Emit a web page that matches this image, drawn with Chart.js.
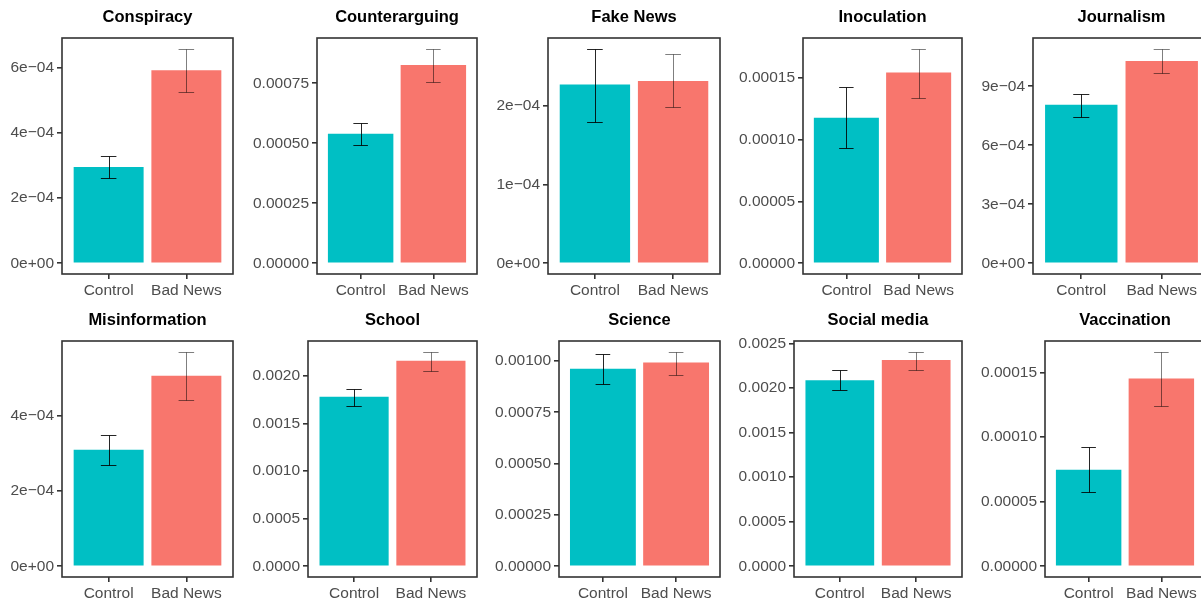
<!DOCTYPE html>
<html>
<head>
<meta charset="utf-8">
<title>Bad News vs Control</title>
<script src="https://cdn.jsdelivr.net/npm/chart.js@4/dist/chart.umd.min.js"></script>
<style>
    html, body { margin: 0; padding: 0; background: #fff; }
    body { width: 1201px; height: 602px; overflow: hidden; position: relative; }
    canvas { position: absolute; }
</style>
</head>
<body>
<div id="panels"></div>
<script>
// Values
const categories = ["Conspiracy", "Counterarguing", "Fake News", "Inoculation", "Journalism",
    "Misinformation", "School", "Science", "Social media", "Vaccination"];
const groups = ["Control", "Bad News"];

const controlMean = [2.96e-4, 5.40e-4, 2.275e-4, 1.175e-4, 8.06e-4, 3.10e-4, 1.781e-3, 9.62e-4, 2.087e-3, 7.47e-5];
const controlLow  = [2.63e-4, 4.91e-4, 1.80e-4, 0.934e-4, 7.43e-4, 2.70e-4, 1.684e-3, 8.88e-4, 1.977e-3, 5.75e-5];
const controlHigh = [3.28e-4, 5.83e-4, 2.73e-4, 1.422e-4, 8.63e-4, 3.50e-4, 1.868e-3, 1.033e-3, 2.202e-3, 9.25e-5];

const badNewsMean = [5.93e-4, 8.26e-4, 2.32e-4, 1.540e-4, 1.029e-3, 5.07e-4, 2.161e-3, 9.93e-4, 2.314e-3, 1.453e-4];
const badNewsLow  = [5.25e-4, 7.56e-4, 1.99e-4, 1.337e-4, 9.66e-4, 4.43e-4, 2.056e-3, 9.30e-4, 2.202e-3, 1.240e-4];
const badNewsHigh = [6.59e-4, 8.94e-4, 2.66e-4, 1.733e-4, 1.091e-3, 5.71e-4, 2.255e-3, 1.045e-3, 2.406e-3, 1.661e-4];

const tickValues = [
    [0, 2e-4, 4e-4, 6e-4],
    [0, 0.00025, 0.0005, 0.00075],
    [0, 1e-4, 2e-4],
    [0, 5e-5, 1e-4, 1.5e-4],
    [0, 3e-4, 6e-4, 9e-4],
    [0, 2e-4, 4e-4],
    [0, 0.0005, 0.001, 0.0015, 0.002],
    [0, 0.00025, 0.0005, 0.00075, 0.001],
    [0, 0.0005, 0.001, 0.0015, 0.002, 0.0025],
    [0, 5e-5, 1e-4, 1.5e-4]
];
const tickLabels = [
    ["0e+00", "2e\u221204", "4e\u221204", "6e\u221204"],
    ["0.00000", "0.00025", "0.00050", "0.00075"],
    ["0e+00", "1e\u221204", "2e\u221204"],
    ["0.00000", "0.00005", "0.00010", "0.00015"],
    ["0e+00", "3e\u221204", "6e\u221204", "9e\u221204"],
    ["0e+00", "2e\u221204", "4e\u221204"],
    ["0.0000", "0.0005", "0.0010", "0.0015", "0.0020"],
    ["0.00000", "0.00025", "0.00050", "0.00075", "0.00100"],
    ["0.0000", "0.0005", "0.0010", "0.0015", "0.0020", "0.0025"],
    ["0.00000", "0.00005", "0.00010", "0.00015"]
];

// Panel boxes on the page (left, right, top of plot area)
const panelLeft  = [62, 317, 548, 803, 1033, 62, 308, 559, 794, 1045];
const panelRight = [233, 477, 720, 962, 1210, 233, 477, 720, 962, 1205];
const panelTop   = [38, 38, 38, 38, 38, 341, 341, 341, 341, 341];

const AXIS_W = 70;
const TITLE_H = 38;
const XAXIS_H = 30;
const PLOT_H = 236;

const teal = "#00BFC4";
const salmon = "#F8766D";
const tickColor = "#4D4D4D";
const frameColor = "#333333";
const fontFamily = "'Liberation Sans', Arial, sans-serif";

const panelFrame = {
    id: "panelFrame",
    afterDraw(chart) {
        const a = chart.chartArea;
        const ctx = chart.ctx;
        ctx.save();
        ctx.strokeStyle = frameColor;
        ctx.lineWidth = 1.6;
        ctx.strokeRect(a.left, a.top, a.right - a.left, a.bottom - a.top);
        ctx.restore();
    }
};

const errorBars = {
    id: "errorBars",
    afterDatasetsDraw(chart) {
        const i = chart.options.plugins.errorBars.index;
        const x = chart.scales.x;
        const y = chart.scales.y;
        const ctx = chart.ctx;
        const bars = [
            { pos: 1, lo: controlLow[i], hi: controlHigh[i], color: "rgba(0,0,0,0.85)" },
            { pos: 2, lo: badNewsLow[i], hi: badNewsHigh[i], color: "rgba(0,0,0,0.5)" }
        ];
        ctx.save();
        ctx.lineWidth = 1;
        bars.forEach((b) => {
            const cx = Math.round(x.getPixelForValue(b.pos)) + 0.5;
            const x0 = x.getPixelForValue(b.pos - 0.1);
            const x1 = x.getPixelForValue(b.pos + 0.1);
            const yLo = Math.round(y.getPixelForValue(b.lo)) + 0.5;
            const yHi = Math.round(y.getPixelForValue(b.hi)) + 0.5;
            ctx.strokeStyle = b.color;
            ctx.beginPath();
            ctx.moveTo(cx, yHi);
            ctx.lineTo(cx, yLo);
            ctx.moveTo(x0, yHi);
            ctx.lineTo(x1, yHi);
            ctx.moveTo(x0, yLo);
            ctx.lineTo(x1, yLo);
            ctx.stroke();
        });
        ctx.restore();
    }
};

function buildPanel(i) {
    const canvas = document.createElement("canvas");
    const width = AXIS_W + (panelRight[i] - panelLeft[i]) + 4;
    const height = TITLE_H + PLOT_H + XAXIS_H;
    canvas.width = width;
    canvas.height = height;
    canvas.style.left = (panelLeft[i] - AXIS_W) + "px";
    canvas.style.top = (panelTop[i] - TITLE_H) + "px";
    document.getElementById("panels").appendChild(canvas);

    // ggplot style 5% expansion above the tallest error bar
    const top = Math.max(controlHigh[i], badNewsHigh[i]);

    new Chart(canvas.getContext("2d"), {
        type: "bar",
        data: {
            datasets: [{
                data: [
                    { x: 1, y: controlMean[i] },
                    { x: 2, y: badNewsMean[i] }
                ],
                backgroundColor: [teal, salmon],
                borderWidth: 0,
                categoryPercentage: 1,
                barPercentage: 0.9
            }]
        },
        options: {
            responsive: false,
            animation: false,
            layout: { padding: { left: 0, right: 4, top: 0, bottom: 0 } },
            scales: {
                x: {
                    type: "linear",
                    min: 0.4,
                    max: 2.6,
                    offset: false,
                    afterBuildTicks: (axis) => { axis.ticks = [{ value: 1 }, { value: 2 }]; },
                    afterFit: (axis) => { axis.height = XAXIS_H; },
                    ticks: {
                        callback: (value) => groups[value - 1],
                        color: tickColor,
                        font: { family: fontFamily, size: 15.5 },
                        padding: 2,
                        maxRotation: 0,
                        autoSkip: false
                    },
                    grid: { offset: false, drawOnChartArea: false, tickLength: 5, color: frameColor, lineWidth: 1.6 },
                    border: { display: false }
                },
                y: {
                    min: -0.05 * top,
                    max: 1.05 * top,
                    afterBuildTicks: (axis) => { axis.ticks = tickValues[i].map((v) => ({ value: v })); },
                    afterFit: (axis) => { axis.width = AXIS_W; },
                    ticks: {
                        callback: (value, index) => tickLabels[i][index],
                        color: tickColor,
                        font: { family: fontFamily, size: 15.5 },
                        padding: 3,
                        autoSkip: false
                    },
                    grid: { drawOnChartArea: false, tickLength: 5, color: frameColor, lineWidth: 1.6 },
                    border: { display: false }
                }
            },
            plugins: {
                legend: { display: false },
                tooltip: { enabled: false },
                title: {
                    display: true,
                    text: categories[i],
                    fullSize: false,
                    color: "#000",
                    font: { family: fontFamily, size: 16.5, weight: "bold", lineHeight: 1.2 },
                    padding: { top: 7.5, bottom: 10.7 }
                },
                errorBars: { index: i }
            }
        },
        plugins: [errorBars, panelFrame]
    });
}

categories.forEach((c, i) => buildPanel(i));
</script>
</body>
</html>
